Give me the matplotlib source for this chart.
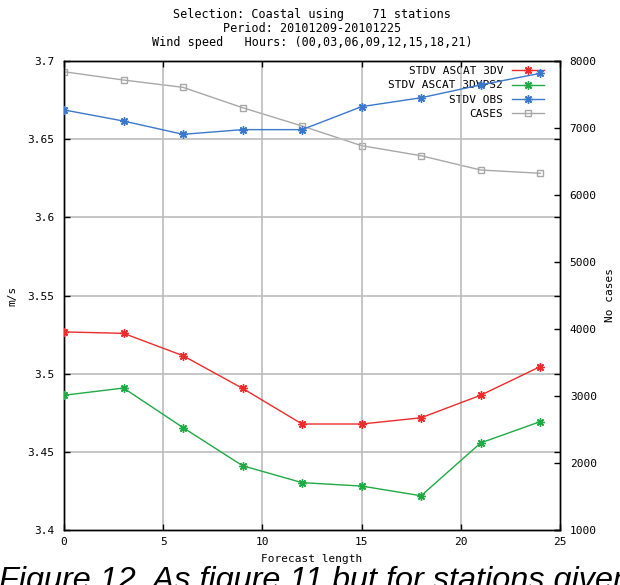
import matplotlib
matplotlib.use("Agg")
import matplotlib.pyplot as plt

# forecast length (hours) and the verification scores
lead = [0, 3, 6, 9, 12, 15, 18, 21, 24]
stdv_3dv = [3.5267, 3.5258, 3.5115, 3.4906, 3.4678, 3.4678, 3.4718, 3.4862, 3.5045]
stdv_3dvps2 = [3.4862, 3.4908, 3.4655, 3.4411, 3.4303, 3.4281, 3.4219, 3.4557, 3.4693]
stdv_obs = [3.6687, 3.6616, 3.6531, 3.6561, 3.6561, 3.6708, 3.6765, 3.6847, 3.6921]
cases = [7840, 7716, 7607, 7303, 7030, 6736, 6586, 6373, 6324]

xticks = [0, 5, 10, 15, 20, 25]
yticks = [3.4, 3.45, 3.5, 3.55, 3.6, 3.65, 3.7]
ylabels = ["3.4", "3.45", "3.5", "3.55", "3.6", "3.65", "3.7"]
y2ticks = [1000, 2000, 3000, 4000, 5000, 6000, 7000, 8000]

title = ("Selection: Coastal using    71 stations\n"
         "Period: 20101209-20101225\n"
         "Wind speed   Hours: (00,03,06,09,12,15,18,21)")
caption = "Figure 12. As figure 11 but for stations given"

mono = "DejaVu Sans Mono"
star = (8, 2, 0)

fig = plt.figure(figsize=(6.2, 5.85), dpi=100)
ax1 = fig.add_axes([64 / 620, 1 - 530 / 585, 496 / 620, 469 / 585])
ax2 = ax1.twinx()
# left axis on top so its lines sit above the legend box of ax2
ax1.set_zorder(ax2.get_zorder() + 1)
ax1.patch.set_visible(False)

l1, = ax1.plot(lead, stdv_3dv, color="#ee2b2b", lw=1, marker=star, ms=6, mew=1, zorder=3)
l2, = ax1.plot(lead, stdv_3dvps2, color="#20aa44", lw=1, marker=star, ms=6, mew=1, zorder=3)
l3, = ax1.plot(lead, stdv_obs, color="#3a78cc", lw=1, marker=star, ms=6, mew=1, zorder=3)
l4, = ax2.plot(lead, cases, color="#a8a8a8", lw=1, marker="s", ms=5, mfc="none", mew=1, zorder=3)

ax1.set_xlim(0, 25)
ax1.set_ylim(3.4, 3.7)
ax2.set_ylim(1000, 8000)

ax1.set_xticks(xticks)
ax1.set_xticklabels([str(t) for t in xticks], family=mono, fontsize=8)
ax1.set_yticks(yticks)
ax1.set_yticklabels(ylabels, family=mono, fontsize=8)
ax2.set_yticks(y2ticks)
ax2.set_yticklabels([str(t) for t in y2ticks], family=mono, fontsize=8)

ax1.tick_params(direction="in", length=4.5, width=1, top=True, right=True, pad=7)
ax1.tick_params(axis="x", pad=5)
ax2.tick_params(direction="in", length=4.5, width=1, pad=7)

for x in xticks[1:-1]:
    ax1.axvline(x, color="#bcbcbc", lw=1.2, zorder=0.5)
for y in yticks[1:-1]:
    ax1.axhline(y, color="#bcbcbc", lw=1.2, zorder=0.5)

for ax in (ax1, ax2):
    for s in ax.spines.values():
        s.set_linewidth(1)
        s.set_color("black")

ax1.set_xlabel("Forecast length", family=mono, fontsize=8, labelpad=5)
ax1.set_ylabel("m/s", family=mono, fontsize=8, labelpad=7)
ax2.set_ylabel("No cases", family=mono, fontsize=8, labelpad=6)

fig.text(312 / 620, 1 - 8 / 585, title, ha="center", va="top",
         family=mono, fontsize=8.5, linespacing=1.1)

leg = ax2.legend([l1, l2, l3, l4],
                 ["STDV ASCAT 3DV", "STDV ASCAT 3DVPS2", "STDV OBS", "CASES"],
                 loc="upper right", bbox_to_anchor=(0.975, 0.996),
                 markerfirst=False, frameon=True,
                 prop={"family": mono, "size": 8}, handlelength=2.9,
                 handletextpad=0.8, labelspacing=0.38, borderaxespad=0,
                 borderpad=0.3, fancybox=False)
leg.get_frame().set_facecolor("white")
leg.get_frame().set_edgecolor("none")
leg.get_frame().set_alpha(1)
leg.set_zorder(1)

fig.text(-0.002, 1 - 589 / 585, caption, ha="left", va="baseline",
         family="Liberation Sans", style="italic", fontsize=23.3)

fig.savefig("out.png", dpi=100)
